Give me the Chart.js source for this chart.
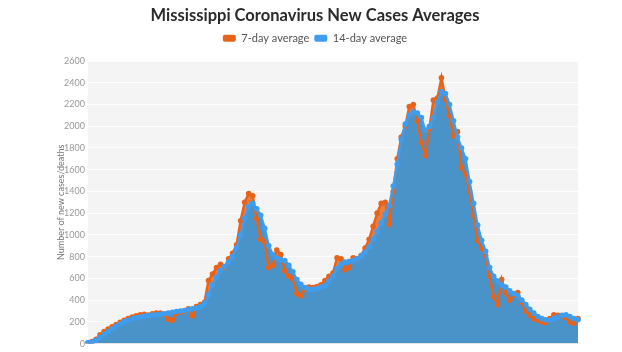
<!DOCTYPE html>
<html>
<head>
<meta charset="utf-8">
<script src="https://cdn.jsdelivr.net/npm/chart.js@4.4.1/dist/chart.umd.min.js"></script>
<style>
  html, body { margin: 0; padding: 0; background: #fff; }
  #wrap { width: 622px; height: 352px; }
</style>
</head>
<body>
<div id="wrap"><canvas id="myChart" width="622" height="352"></canvas></div>
<script>
// 14-day average (blue) left to right
var avg14 = [
  10, 15, 30, 55, 85, 110, 135, 160, 180, 200,
  215, 228, 238, 245, 252, 258, 262, 266, 270, 274,
  280, 288, 296, 300, 305, 312, 320, 328, 340, 370,
  450, 540, 610, 670, 710, 750, 800, 880, 1000, 1150,
  1260, 1290, 1240, 1180, 1060, 900, 820, 785, 770, 765,
  720, 660, 590, 545, 515, 500, 500, 505, 520, 535,
  575, 620, 690, 730, 750, 755, 765, 780, 805, 840,
  890, 960, 1030, 1110, 1190, 1270, 1450, 1650, 1880, 2020,
  2100, 2130, 2120, 2080, 1960, 2000, 2080, 2220, 2320, 2300,
  2200, 2050, 1900, 1800, 1700, 1490, 1290, 1090, 950, 850,
  700, 620, 575, 540, 520, 485, 460, 440, 400, 360,
  315, 280, 250, 230, 220, 215, 230, 245, 260, 265,
  250, 230, 220
];

// 7-day average (orange)
var avg7 = [
  5, 20, 40, 80, 110, 135, 155, 175, 195, 215,
  230, 245, 255, 265, 270, 262, 275, 280, 282, 270,
  225, 215, 280, 290, 300, 320, 255, 340, 360, 380,
  580, 640, 700, 730, 700, 780, 830, 910, 1130, 1300,
  1380, 1360, 1150, 960, 940, 700, 720, 860, 820, 670,
  620, 600, 460, 440, 500, 520, 515, 525, 540, 580,
  620, 650, 790, 780, 680, 700, 790, 780, 810, 880,
  960, 1080, 1200, 1290, 1300, 1100, 1400, 1700, 1900, 2000,
  2180, 2200, 2050, 1850, 1730, 1980, 2240, 2260, 2445, 2250,
  2100, 1910, 1950, 1620, 1560, 1400, 1180, 950, 880, 810,
  620, 430, 360, 590, 470, 400, 450, 470, 380, 300,
  260, 230, 215, 200, 195, 230, 265, 260, 255, 240,
  200, 190, 230
];

var yTicks = [0, 200, 400, 600, 800, 1000, 1200, 1400, 1600, 1800, 2000, 2200, 2400, 2600];

var dayLabels = avg14.map(function (v, i) { return 'Day ' + (i + 1); });

const COLOR_7 = '#e8631a';
const COLOR_7_FILL = '#ee7d3c';
const COLOR_14 = '#3f9def';
const COLOR_14_FILL = '#4a93c8';

// light grey plot background
const plotBackground = {
  id: 'plotBackground',
  beforeDraw(chart) {
    const a = chart.chartArea;
    const c = chart.ctx;
    c.save();
    c.fillStyle = '#f4f4f4';
    c.fillRect(a.left, a.top, a.right - a.left, a.bottom - a.top);
    c.restore();
  }
};

var ctx = document.querySelector('#myChart');

new Chart(ctx, {
  type: 'line',
  data: {
    labels: dayLabels,
    datasets: [
      {
        label: '14-day average',
        data: avg14,
        borderColor: COLOR_14,
        backgroundColor: COLOR_14_FILL,
        borderWidth: 2.5,
        fill: 'origin',
        pointRadius: 2.8,
        pointBorderWidth: 0,
        pointBackgroundColor: COLOR_14,
        tension: 0
      },
      {
        label: '7-day average',
        data: avg7,
        borderColor: COLOR_7,
        backgroundColor: COLOR_7_FILL,
        borderWidth: 2.5,
        fill: 'origin',
        pointRadius: 2.8,
        pointBorderWidth: 0,
        pointBackgroundColor: COLOR_7,
        tension: 0
      }
    ]
  },
  options: {
    responsive: false,
    animation: false,
    layout: { padding: { left: 52, right: 44, top: 0, bottom: 5 } },
    plugins: {
      filler: { drawTime: 'beforeDatasetsDraw' },
      title: {
        display: true,
        text: 'Mississippi Coronavirus New Cases Averages',
        color: '#2b2b2b',
        font: { family: 'Lato', size: 16.5, weight: 'bold' },
        padding: { top: 6, bottom: 2 }
      },
      subtitle: {
        display: true,
        text: '',
        weight: 500,
        font: { size: 1 },
        padding: { top: 0, bottom: 6 }
      },
      legend: {
        reverse: true,
        labels: {
          color: '#555',
          font: { family: 'Lato', size: 11 },
          boxWidth: 13,
          boxHeight: 7,
          padding: 5,
          useBorderRadius: true,
          borderRadius: 2,
          generateLabels(chart) {
            var items = Chart.defaults.plugins.legend.labels.generateLabels(chart);
            items.forEach(function (it) {
              var col = it.datasetIndex === 0 ? COLOR_14 : COLOR_7;
              it.fillStyle = col;
              it.strokeStyle = col;
              it.lineWidth = 0;
            });
            return items;
          }
        }
      },
      tooltip: { enabled: false }
    },
    scales: {
      x: {
        ticks: { display: false },
        grid: { display: false },
        border: { display: false },
        afterFit(scale) { scale.height = 0; }
      },
      y: {
        min: 0,
        max: 2600,
        afterBuildTicks(scale) {
          scale.ticks = yTicks.map(function (v) { return { value: v }; });
        },
        ticks: {
          color: '#999',
          font: { family: 'Lato', size: 9 },
          padding: 3,
          callback: function (value) { return String(value); }
        },
        grid: { color: '#ffffff', lineWidth: 1, drawTicks: false },
        border: { display: false },
        title: {
          display: true,
          text: 'Number of new cases/deaths',
          color: '#777',
          font: { family: 'Lato', size: 9 },
          padding: { top: 4, bottom: 0 }
        },
        afterFit(scale) { scale.width = 36; }
      }
    }
  },
  plugins: [plotBackground]
});
</script>
</body>
</html>
